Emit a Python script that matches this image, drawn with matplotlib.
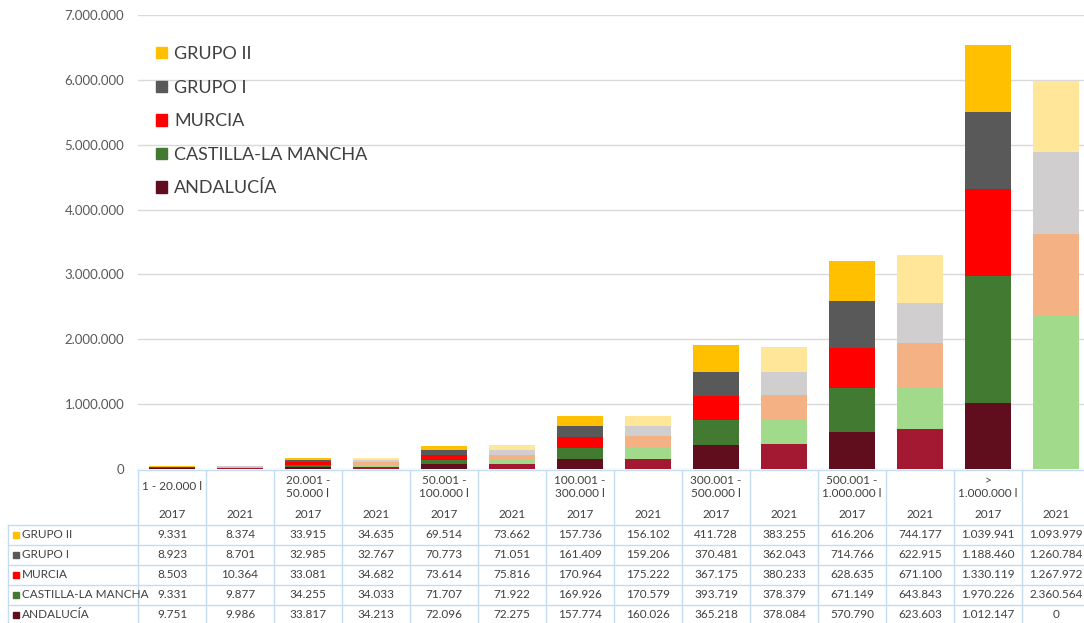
import numpy as np
import matplotlib
matplotlib.use('Agg')
import matplotlib.pyplot as plt
from matplotlib.patches import Patch, Rectangle
from matplotlib.transforms import blended_transform_factory
from matplotlib.ticker import FuncFormatter

plt.rcParams['font.family'] = ['Lato', 'DejaVu Sans']

# categorias (rango de volumen) y años
categorias = ['1 - 20.000 l', '20.001 -\n50.000 l', '50.001 -\n100.000 l', '100.001 -\n300.000 l',
              '300.001 -\n500.000 l', '500.001 -\n1.000.000 l', '>\n1.000.000 l']
anios = ['2017', '2021'] * 7

# series (una columna por categoria y año)
andalucia = [9751, 9986, 33817, 34213, 72096, 72275, 157774, 160026, 365218, 378084, 570790, 623603, 1012147, 0]
castilla = [9331, 9877, 34255, 34033, 71707, 71922, 169926, 170579, 393719, 378379, 671149, 643843, 1970226, 2360564]
murcia = [8503, 10364, 33081, 34682, 73614, 75816, 170964, 175222, 367175, 380233, 628635, 671100, 1330119, 1267972]
grupo1 = [8923, 8701, 32985, 32767, 70773, 71051, 161409, 159206, 370481, 362043, 714766, 622915, 1188460, 1260784]
grupo2 = [9331, 8374, 33915, 34635, 69514, 73662, 157736, 156102, 411728, 383255, 616206, 744177, 1039941, 1093979]

# nombre, valores, color 2017, color 2021 (de abajo a arriba)
series = [
    ('ANDALUCÍA', andalucia, '#600E1E', '#A31932'),
    ('CASTILLA-LA MANCHA', castilla, '#437A32', '#A0DA8A'),
    ('MURCIA', murcia, '#FF0000', '#F4B183'),
    ('GRUPO I', grupo1, '#595959', '#D0CECE'),
    ('GRUPO II', grupo2, '#FFC000', '#FFE699'),
]

W, H = 1084, 623
def fx(px): return px / W
def fy(py): return 1 - py / H

fig = plt.figure(figsize=(W / 100, H / 100), dpi=100)
ax = fig.add_axes([fx(138), fy(469), 952 / W, (469 - 15) / H])

x = np.arange(len(anios))
bottom = np.zeros(len(anios))
for name, vals, c17, c21 in series:
    cols = [c17 if a == '2017' else c21 for a in anios]
    ax.bar(x, vals, 0.69, bottom=bottom, color=cols, linewidth=0)
    bottom += np.array(vals)

ax.set_xlim(-0.5, 13.5)
ax.set_ylim(0, 7000000)
ax.set_yticks(np.arange(0, 7000001, 1000000))
ax.yaxis.set_major_formatter(FuncFormatter(lambda v, p: f'{int(v):,}'.replace(',', '.')))
ax.yaxis.grid(True, color='#D9D9D9', lw=1)
ax.set_axisbelow(True)
for s in ax.spines.values():
    s.set_visible(False)
ax.tick_params(left=False, bottom=False, labelbottom=False, labelsize=9.5,
               labelcolor='#595959', length=0, pad=10)

# leyenda
handles = [Patch(color=c17, label=name) for name, vals, c17, c21 in series[::-1]]
fig.legend(handles=handles, loc='upper left', bbox_to_anchor=(fx(156), fy(46)),
           bbox_transform=fig.transFigure, frameon=False, fontsize=13,
           labelspacing=0.975, handlelength=0.6, handleheight=0.6, handletextpad=0.4,
           borderpad=0, borderaxespad=0, labelcolor='#404040')

# tabla de datos
tr = blended_transform_factory(ax.transData, fig.transFigure)
line_c = '#C5DCF0'
txt_c = '#404040'
fs = 8.5

for i, cat in enumerate(categorias):
    ax.text(2 * i, fy(487), cat, transform=tr, ha='center', va='center',
            fontsize=fs, color=txt_c, linespacing=1.25, clip_on=False)
for i, a in enumerate(anios):
    ax.text(i, fy(514), a, transform=tr, ha='center', va='center',
            fontsize=fs, color=txt_c, clip_on=False)

row_y = [535, 555, 575, 595, 615]
for (name, vals, c17, c21), yy in zip(series[::-1], row_y):
    fig.patches.append(Rectangle((fx(13), fy(yy + 3)), 6 / W, 6 / H, color=c17,
                                 transform=fig.transFigure, figure=fig))
    fig.text(fx(22), fy(yy), name, ha='left', va='center', fontsize=fs, color=txt_c)
    for i, v in enumerate(vals):
        ax.text(i, fy(yy), f'{v:,}'.replace(',', '.'), transform=tr, ha='center',
                va='center', fontsize=fs, color=txt_c, clip_on=False)

# lineas de la tabla
for k in range(15):
    ax.plot([k - 0.5, k - 0.5], [fy(470), fy(625)], transform=tr, color=line_c,
            lw=1, clip_on=False)
ax.plot([-0.5, 13.5], [fy(470), fy(470)], transform=tr, color=line_c, lw=1, clip_on=False)
for yy in [525, 545, 565, 585, 605]:
    fig.add_artist(plt.Line2D([fx(8), 1], [fy(yy), fy(yy)], color=line_c, lw=1))
fig.add_artist(plt.Line2D([fx(8), fx(8)], [fy(525), 0], color=line_c, lw=1))

fig.savefig('out.png', dpi=100)
